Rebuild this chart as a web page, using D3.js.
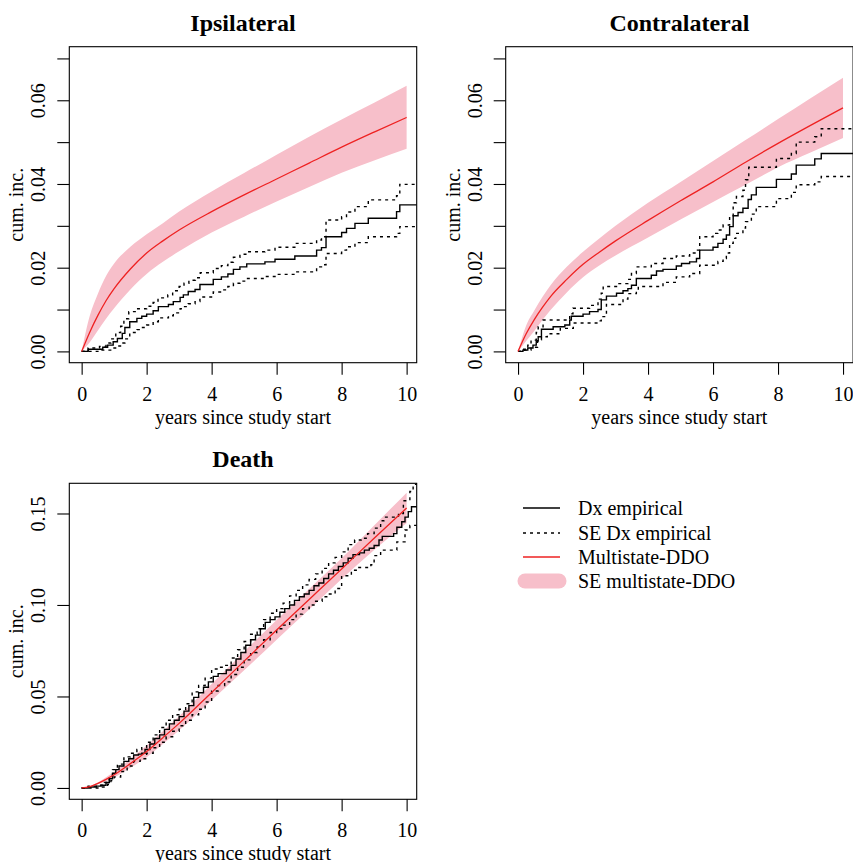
<!DOCTYPE html>
<html>
<head>
<meta charset="utf-8">
<script src="https://cdn.jsdelivr.net/npm/d3@7"></script>
<style>
  body { margin: 0; background: #fff; }
  text { font-family: "Liberation Serif", "Times New Roman", serif; fill: #000; }
</style>
</head>
<body>
<svg width="853" height="862"></svg>
<script>
// ---- data ----
var modelT = [0, 0.25, 0.5, 0.75, 1, 1.5, 2, 2.5, 3, 4, 5, 6, 7, 8, 9, 10];

// Ipsilateral
var ipsiModel = [0, 0.0046, 0.0086, 0.0121, 0.015, 0.0197, 0.0235, 0.0264, 0.029, 0.0334, 0.0374, 0.0412, 0.045, 0.0488, 0.0524, 0.0559];
var ipsiBandUp = [0, 0.0085, 0.0138, 0.018, 0.021, 0.025, 0.028, 0.0306, 0.0334, 0.0382, 0.0426, 0.047, 0.0513, 0.0554, 0.0594, 0.0635];
var ipsiBandLo = [0, 0.0022, 0.005, 0.0078, 0.0103, 0.0148, 0.0185, 0.0214, 0.0239, 0.0284, 0.0322, 0.0358, 0.0393, 0.0427, 0.0456, 0.0484];
var ipsiEmp = [[0,0],[0.2,0.0005],[0.65,0.001],[0.8,0.0015],[0.97,0.0023],[1.1,0.0031],[1.25,0.0043],[1.33,0.0057],[1.48,0.0071],[1.7,0.0079],[1.85,0.0084],[2.0,0.0089],[2.2,0.0097],[2.36,0.0107],[2.67,0.0112],[2.82,0.0119],[3.03,0.0129],[3.13,0.0135],[3.28,0.0143],[3.49,0.0148],[3.64,0.016],[4.05,0.0172],[4.3,0.0178],[4.5,0.0185],[4.67,0.0196],[4.87,0.0202],[5.08,0.0209],[5.64,0.0214],[5.95,0.022],[6.56,0.0228],[7.23,0.0242],[7.38,0.0248],[7.52,0.0274],[8.0,0.0284],[8.15,0.0294],[8.41,0.0306],[8.82,0.0318],[9.69,0.0334],[9.79,0.035]];
var ipsiEmpUp = [[0,0],[0.2,0.0008],[0.55,0.0012],[0.75,0.002],[0.9,0.003],[1.05,0.0045],[1.2,0.006],[1.3,0.0078],[1.45,0.0095],[1.7,0.0102],[2.0,0.0108],[2.2,0.0117],[2.35,0.0128],[2.65,0.0135],[2.8,0.0145],[3.0,0.0155],[3.15,0.0163],[3.3,0.017],[3.5,0.0176],[3.65,0.0188],[4.05,0.0198],[4.3,0.0205],[4.5,0.0213],[4.67,0.0225],[4.87,0.0232],[5.08,0.0238],[5.64,0.0242],[5.95,0.0249],[6.56,0.0258],[7.23,0.0266],[7.38,0.0274],[7.52,0.0314],[8.0,0.0322],[8.15,0.0333],[8.41,0.0346],[8.82,0.0362],[9.69,0.0372],[9.79,0.0399]];
var ipsiEmpLo = [[0,0],[0.5,0.0003],[0.97,0.0008],[1.1,0.0013],[1.25,0.002],[1.33,0.003],[1.48,0.0045],[1.7,0.0052],[1.85,0.0057],[2.0,0.0063],[2.2,0.0071],[2.36,0.008],[2.67,0.0085],[2.82,0.0092],[3.03,0.0102],[3.13,0.0107],[3.28,0.0114],[3.49,0.0119],[3.64,0.013],[4.05,0.0142],[4.3,0.0147],[4.5,0.0155],[4.67,0.0163],[4.87,0.0168],[5.08,0.0174],[5.64,0.0179],[5.95,0.0184],[6.56,0.019],[7.23,0.0202],[7.38,0.0207],[7.52,0.0234],[8.0,0.0242],[8.15,0.025],[8.41,0.026],[8.82,0.0274],[9.69,0.0282],[9.79,0.0298]];

// Contralateral
var contraModel = [0, 0.0042, 0.0076, 0.0105, 0.0131, 0.0172, 0.0208, 0.0237, 0.0264, 0.0313, 0.036, 0.0405, 0.0452, 0.0497, 0.054, 0.0582];
var contraBandUp = [0, 0.0062, 0.0098, 0.013, 0.0158, 0.0202, 0.0238, 0.027, 0.03, 0.0355, 0.0405, 0.0455, 0.0505, 0.0555, 0.0605, 0.0654];
var contraBandLo = [0, 0.0025, 0.0049, 0.0075, 0.0099, 0.0141, 0.0177, 0.0205, 0.0229, 0.0272, 0.0315, 0.0357, 0.0398, 0.044, 0.0475, 0.051];
var contraEmp = [[0,0],[0.15,0.0003],[0.3,0.0008],[0.46,0.0015],[0.56,0.0025],[0.62,0.0035],[0.72,0.0053],[1.08,0.0059],[1.44,0.0063],[1.59,0.0075],[1.64,0.0084],[2.0,0.0089],[2.2,0.0095],[2.46,0.01],[2.56,0.0123],[2.72,0.0132],[3.03,0.0139],[3.23,0.0145],[3.38,0.015],[3.49,0.0158],[3.64,0.0174],[4.1,0.0182],[4.26,0.0192],[4.46,0.0196],[4.87,0.0204],[5.03,0.021],[5.28,0.0214],[5.49,0.0222],[5.59,0.0242],[6.0,0.0249],[6.15,0.0258],[6.31,0.0268],[6.41,0.0278],[6.51,0.0298],[6.62,0.0324],[6.77,0.0332],[6.92,0.0342],[7.08,0.0363],[7.18,0.0374],[7.33,0.0392],[7.95,0.0411],[8.41,0.0424],[8.56,0.0445],[9.13,0.046],[9.33,0.0473]];
var contraEmpUp = [[0,0],[0.15,0.0005],[0.3,0.0015],[0.4,0.0027],[0.56,0.0045],[0.62,0.0059],[0.77,0.0075],[1.59,0.009],[1.69,0.0103],[2.2,0.011],[2.46,0.0125],[2.56,0.0139],[2.62,0.0155],[3.03,0.0162],[3.38,0.0172],[3.49,0.0186],[3.64,0.0202],[4.1,0.021],[4.46,0.0222],[4.87,0.0228],[5.28,0.0235],[5.49,0.0242],[5.59,0.0274],[6.0,0.0282],[6.15,0.029],[6.31,0.0302],[6.51,0.0322],[6.62,0.0355],[6.72,0.037],[6.92,0.0385],[7.0,0.041],[7.1,0.044],[7.95,0.0461],[8.41,0.0473],[8.56,0.05],[9.13,0.0513],[9.33,0.0532]];
var contraEmpLo = [[0,0],[0.2,0.0003],[0.4,0.001],[0.6,0.0028],[0.72,0.0035],[0.9,0.0042],[1.3,0.0055],[1.7,0.0068],[2.46,0.0073],[2.56,0.0083],[2.72,0.0112],[3.23,0.0125],[3.38,0.0138],[3.64,0.0145],[3.7,0.0155],[4.46,0.0165],[4.87,0.0178],[5.28,0.0186],[5.59,0.0206],[6.15,0.0215],[6.31,0.0222],[6.41,0.0235],[6.51,0.0258],[6.62,0.027],[6.7,0.0282],[6.92,0.0295],[7.0,0.031],[7.18,0.0328],[7.33,0.0346],[7.95,0.0365],[8.41,0.038],[8.56,0.0398],[9.13,0.0405],[9.33,0.0418]];

// Death
var deathModel = [0, 0.0007, 0.0025, 0.0047, 0.0072, 0.0133, 0.0199, 0.0275, 0.0353, 0.0522, 0.0693, 0.0863, 0.103, 0.1197, 0.1365, 0.153];
var deathBandUp = [0, 0.001, 0.003, 0.0058, 0.0088, 0.0158, 0.0232, 0.031, 0.0392, 0.0568, 0.0745, 0.0918, 0.1088, 0.1256, 0.1435, 0.1614];
var deathBandLo = [0, 0.0004, 0.002, 0.0036, 0.0057, 0.011, 0.0168, 0.024, 0.0315, 0.048, 0.0643, 0.081, 0.0975, 0.1142, 0.13, 0.1448];
var deathEmp = [[0,0],[0.2,0.0005],[0.45,0.001],[0.6,0.0015],[0.75,0.003],[0.85,0.005],[0.95,0.008],[1.05,0.01],[1.15,0.012],[1.3,0.0145],[1.45,0.016],[1.6,0.018],[1.75,0.0185],[1.85,0.019],[1.95,0.021],[2.1,0.024],[2.25,0.027],[2.4,0.029],[2.55,0.032],[2.7,0.035],[2.85,0.037],[3.0,0.039],[3.15,0.042],[3.3,0.045],[3.45,0.0495],[3.6,0.052],[3.75,0.055],[3.9,0.058],[4.05,0.061],[4.2,0.0625],[4.45,0.0645],[4.6,0.067],[4.75,0.0705],[4.9,0.074],[5.05,0.078],[5.2,0.081],[5.35,0.0835],[5.5,0.087],[5.65,0.0905],[5.8,0.092],[5.95,0.0935],[6.1,0.096],[6.25,0.098],[6.4,0.1],[6.55,0.1025],[6.7,0.1045],[6.85,0.106],[7.0,0.108],[7.15,0.1105],[7.3,0.112],[7.45,0.1145],[7.6,0.117],[7.75,0.119],[7.9,0.121],[8.05,0.123],[8.2,0.1255],[8.35,0.1275],[8.55,0.1285],[8.7,0.13],[8.85,0.131],[9.0,0.1325],[9.15,0.1355],[9.25,0.1375],[9.6,0.139],[9.7,0.1425],[9.85,0.1455],[9.95,0.148],[10.05,0.151],[10.15,0.1537]];
var deathEmpUp = [[0,0],[0.2,0.001],[0.5,0.0015],[0.7,0.003],[0.85,0.006],[0.95,0.01],[1.1,0.013],[1.3,0.017],[1.5,0.019],[1.7,0.021],[1.85,0.022],[2.0,0.025],[2.2,0.029],[2.4,0.033],[2.6,0.037],[2.8,0.04],[3.0,0.043],[3.2,0.046],[3.4,0.0525],[3.6,0.056],[3.8,0.06],[4.0,0.065],[4.2,0.066],[4.4,0.067],[4.6,0.071],[4.8,0.0755],[5.0,0.08],[5.2,0.084],[5.4,0.087],[5.6,0.092],[5.8,0.0955],[6.0,0.098],[6.2,0.101],[6.4,0.105],[6.6,0.108],[6.8,0.111],[7.0,0.114],[7.2,0.117],[7.4,0.12],[7.6,0.123],[7.8,0.126],[8.0,0.129],[8.2,0.133],[8.4,0.1355],[8.6,0.1365],[8.8,0.139],[9.0,0.142],[9.2,0.146],[9.3,0.148],[9.75,0.15],[9.9,0.157],[10.1,0.162],[10.2,0.166]];
var deathEmpLo = [[0,0],[0.5,0.0005],[0.8,0.002],[0.9,0.004],[1.0,0.006],[1.2,0.009],[1.4,0.012],[1.6,0.0145],[1.8,0.016],[2.0,0.019],[2.2,0.022],[2.4,0.025],[2.6,0.028],[2.8,0.031],[3.0,0.034],[3.2,0.037],[3.4,0.04],[3.6,0.043],[3.8,0.047],[4.0,0.053],[4.2,0.056],[4.4,0.058],[4.6,0.062],[4.8,0.066],[5.0,0.07],[5.2,0.074],[5.4,0.077],[5.6,0.081],[5.8,0.085],[6.0,0.087],[6.2,0.089],[6.4,0.092],[6.6,0.095],[6.8,0.098],[7.0,0.1],[7.2,0.102],[7.4,0.1045],[7.6,0.106],[7.8,0.109],[8.0,0.116],[8.3,0.119],[8.5,0.1205],[8.9,0.122],[9.0,0.127],[9.2,0.13],[9.7,0.1345],[9.95,0.141],[10.1,0.1435]];

var xTicks = [0, 2, 4, 6, 8, 10];
var yTicksSmall = [0, 0.01, 0.02, 0.03, 0.04, 0.05, 0.06, 0.07];
var yLabelsSmall = [0, 0.02, 0.04, 0.06];
var yTicksDeath = [0, 0.05, 0.10, 0.15];

var legendLabels = ['Dx empirical', 'SE Dx empirical', 'Multistate-DDO', 'SE multistate-DDO'];

// ---- drawing ----
var svg = d3.select('svg');
svg.append('rect').attr('width', 853).attr('height', 862).attr('fill', '#fff');

var pw = 347.4, ph = 316;
var pink = '#f7bfca';
var red = '#ee2222';

function drawPanel(opt) {
  var g = svg.append('g').attr('transform', 'translate(' + opt.left + ',' + opt.top + ')');
  var x = d3.scaleLinear().domain([-0.38, 10.31]).range([0, pw]);
  var y = d3.scaleLinear().domain(opt.yDomain).range([ph, 0]);
  var clipId = 'clip-' + opt.id;
  g.append('clipPath').attr('id', clipId)
    .append('rect').attr('width', pw).attr('height', ph);
  var plot = g.append('g').attr('clip-path', 'url(#' + clipId + ')');

  var rows = modelT.map(function(t, i) {
    return { t: t, m: opt.model[i], up: opt.up[i], lo: opt.lo[i] };
  });

  // SE band of multistate model
  plot.append('path').datum(rows)
    .attr('fill', pink)
    .attr('d', d3.area().curve(d3.curveMonotoneX)
      .x(function(d) { return x(d.t); })
      .y0(function(d) { return y(d.lo); })
      .y1(function(d) { return y(d.up); }));

  // empirical step functions, carried on to the right edge
  var step = d3.line().curve(d3.curveStepAfter)
    .x(function(d) { return x(d[0]); })
    .y(function(d) { return y(d[1]); });
  function extend(arr) {
    return arr.concat([[x.domain()[1] + 0.1, arr[arr.length - 1][1]]]);
  }
  [opt.empUp, opt.empLo].forEach(function(arr) {
    plot.append('path').datum(extend(arr))
      .attr('fill', 'none').attr('stroke', '#000').attr('stroke-width', 1.4)
      .attr('stroke-dasharray', '3,4').attr('d', step);
  });
  plot.append('path').datum(extend(opt.emp))
    .attr('fill', 'none').attr('stroke', '#000').attr('stroke-width', 1.4)
    .attr('d', step);

  // multistate model curve
  plot.append('path').datum(rows)
    .attr('fill', 'none').attr('stroke', red).attr('stroke-width', 1.3)
    .attr('d', d3.line().curve(d3.curveMonotoneX)
      .x(function(d) { return x(d.t); })
      .y(function(d) { return y(d.m); }));

  // box
  g.append('rect').attr('width', pw).attr('height', ph)
    .attr('fill', 'none').attr('stroke', '#000').attr('stroke-width', 1.1);

  // x axis
  var xa = g.append('g').attr('transform', 'translate(0,' + ph + ')')
    .call(d3.axisBottom(x).tickValues(xTicks).tickSizeInner(12).tickSizeOuter(0).tickPadding(12)
      .tickFormat(d3.format('d')));
  xa.select('.domain').remove();
  xa.selectAll('line').attr('stroke-width', 1.1);
  xa.selectAll('text').attr('font-size', 20).attr('font-family', '"Liberation Serif", serif').attr('fill', '#000');

  // y axis, labels rotated like R
  var ya = g.append('g')
    .call(d3.axisLeft(y).tickValues(opt.yTicks).tickSizeInner(12).tickSizeOuter(0)
      .tickFormat(function(d) {
        return opt.yLabels.some(function(v) { return Math.abs(v - d) < 1e-9; }) ? d3.format('.2f')(d) : '';
      }));
  ya.select('.domain').remove();
  ya.selectAll('line').attr('stroke-width', 1.1);
  ya.selectAll('text')
    .attr('x', null).attr('dy', null)
    .attr('text-anchor', 'middle')
    .attr('transform', 'translate(-24,0) rotate(-90)')
    .attr('font-size', 20).attr('font-family', '"Liberation Serif", serif').attr('fill', '#000');

  // titles and axis labels
  g.append('text').attr('x', pw / 2).attr('y', -16)
    .attr('text-anchor', 'middle').attr('font-size', 24).attr('font-weight', 'bold')
    .text(opt.title);
  g.append('text').attr('x', pw / 2).attr('y', ph + 61)
    .attr('text-anchor', 'middle').attr('font-size', 20)
    .text('years since study start');
  g.append('text')
    .attr('transform', 'translate(-46,' + (ph / 2) + ') rotate(-90)')
    .attr('text-anchor', 'middle').attr('font-size', 20)
    .text('cum. inc.');
}

drawPanel({ id: 'ipsi', title: 'Ipsilateral', left: 69.3, top: 46.7,
  yDomain: [-0.0027, 0.0728], yTicks: yTicksSmall, yLabels: yLabelsSmall,
  model: ipsiModel, up: ipsiBandUp, lo: ipsiBandLo,
  emp: ipsiEmp, empUp: ipsiEmpUp, empLo: ipsiEmpLo });

drawPanel({ id: 'contra', title: 'Contralateral', left: 505.7, top: 46.7,
  yDomain: [-0.0027, 0.0728], yTicks: yTicksSmall, yLabels: yLabelsSmall,
  model: contraModel, up: contraBandUp, lo: contraBandLo,
  emp: contraEmp, empUp: contraEmpUp, empLo: contraEmpLo });

drawPanel({ id: 'death', title: 'Death', left: 69.3, top: 483.3,
  yDomain: [-0.0062, 0.1665], yTicks: yTicksDeath, yLabels: yTicksDeath,
  model: deathModel, up: deathBandUp, lo: deathBandLo,
  emp: deathEmp, empUp: deathEmpUp, empLo: deathEmpLo });

// legend
var legend = svg.append('g');
var legY = [508, 533, 557, 581];
legendLabels.forEach(function(label, i) {
  var row = legend.append('g').attr('transform', 'translate(0,' + legY[i] + ')');
  var ln = row.append('line').attr('x1', 523).attr('x2', 560).attr('y1', 0).attr('y2', 0);
  if (i === 0) ln.attr('stroke', '#000').attr('stroke-width', 1.4);
  if (i === 1) ln.attr('stroke', '#000').attr('stroke-width', 1.4).attr('stroke-dasharray', '3,4');
  if (i === 2) ln.attr('stroke', red).attr('stroke-width', 1.3);
  if (i === 3) ln.attr('x1', 525).attr('x2', 559).attr('stroke', pink)
    .attr('stroke-width', 15).attr('stroke-linecap', 'round');
  row.append('text').attr('x', 578).attr('dy', '0.33em').attr('font-size', 20).text(label);
});
</script>
</body>
</html>
